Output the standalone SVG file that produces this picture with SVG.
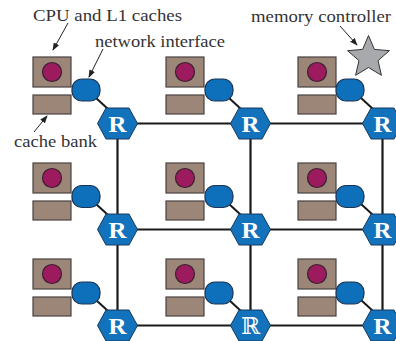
<svg xmlns="http://www.w3.org/2000/svg" width="396" height="341" viewBox="0 0 396 341">
<style>
.box{fill:#9c8677;stroke:#4a4242;stroke-width:1.2}
.cpu{fill:#9b1b5e;stroke:#3a2030;stroke-width:1.2}
.ni{fill:#0e6fbb;stroke:#1c3552;stroke-width:1.2}
.rt{fill:#1272bb;stroke:#173a5e;stroke-width:1}
.rl{font-family:"Liberation Serif",serif;font-weight:bold;font-size:23px;fill:#fff;text-anchor:middle}
.grid{stroke:#1a1a1a;stroke-width:2.2;fill:none}
.lbl{font-family:"Liberation Serif",serif;font-size:17.5px;fill:#333}
.ptr{stroke:#222;stroke-width:1;fill:none}
</style>
<defs>
<marker id="ah" markerWidth="8" markerHeight="6" refX="7" refY="3" orient="auto" markerUnits="userSpaceOnUse">
<path d="M0,0 L8,3 L0,6 Z" fill="#222"/>
</marker>
<polygon id="hex" points="-20,0 -11.5,-15.5 11.5,-15.5 20,0 11.5,15.5 -11.5,15.5"/>
</defs>
<rect width="396" height="341" fill="#fff"/>

<g id="connectors">
<g class="grid">
<line x1="117.5" y1="123.5" x2="382.5" y2="123.5"/>
<line x1="117.5" y1="229.5" x2="382.5" y2="229.5"/>
<line x1="117.5" y1="325.5" x2="382.5" y2="325.5"/>
<line x1="117.5" y1="123.5" x2="117.5" y2="325.5"/>
<line x1="250.5" y1="123.5" x2="250.5" y2="325.5"/>
<line x1="382.5" y1="123.5" x2="382.5" y2="325.5"/>
</g>
<g stroke="#1a1a1a" stroke-width="2">
<line x1="96" y1="98" x2="108" y2="109"/>
<line x1="229" y1="98" x2="241" y2="109"/>
<line x1="361" y1="98" x2="373" y2="109"/>
<line x1="96" y1="204" x2="108" y2="215"/>
<line x1="229" y1="204" x2="241" y2="215"/>
<line x1="361" y1="204" x2="373" y2="215"/>
<line x1="96" y1="300" x2="108" y2="311"/>
<line x1="229" y1="300" x2="241" y2="311"/>
<line x1="361" y1="300" x2="373" y2="311"/>
</g>
<g class="ptr">
<line x1="68" y1="23" x2="53" y2="50" marker-end="url(#ah)"/>
<line x1="103" y1="49" x2="89" y2="77" marker-end="url(#ah)"/>
<line x1="34" y1="132" x2="47" y2="116" marker-end="url(#ah)"/>
<line x1="340" y1="26" x2="357" y2="45" marker-end="url(#ah)"/>
</g>
</g>

<g id="tile-1-1"><rect class="box" x="33" y="57" width="38" height="30"/><circle class="cpu" cx="52" cy="72" r="9.5"/><rect class="box" x="33" y="95" width="38" height="19"/><rect class="ni" x="72" y="79" width="28" height="22" rx="10"/></g>
<g id="tile-1-2"><rect class="box" x="166" y="57" width="38" height="30"/><circle class="cpu" cx="185" cy="72" r="9.5"/><rect class="box" x="166" y="95" width="38" height="19"/><rect class="ni" x="205" y="79" width="28" height="22" rx="10"/></g>
<g id="tile-1-3"><rect class="box" x="298" y="57" width="38" height="30"/><circle class="cpu" cx="317" cy="72" r="9.5"/><rect class="box" x="298" y="95" width="38" height="19"/><rect class="ni" x="336" y="79" width="28" height="22" rx="10"/></g>
<g id="tile-2-1"><rect class="box" x="33" y="163" width="38" height="30"/><circle class="cpu" cx="52" cy="178" r="9.5"/><rect class="box" x="33" y="201" width="38" height="19"/><rect class="ni" x="72" y="185.5" width="28" height="22" rx="10"/></g>
<g id="tile-2-2"><rect class="box" x="166" y="163" width="38" height="30"/><circle class="cpu" cx="185" cy="178" r="9.5"/><rect class="box" x="166" y="201" width="38" height="19"/><rect class="ni" x="205" y="185.5" width="28" height="22" rx="10"/></g>
<g id="tile-2-3"><rect class="box" x="298" y="163" width="38" height="30"/><circle class="cpu" cx="317" cy="178" r="9.5"/><rect class="box" x="298" y="201" width="38" height="19"/><rect class="ni" x="336" y="185.5" width="28" height="22" rx="10"/></g>
<g id="tile-3-1"><rect class="box" x="33" y="259" width="38" height="30"/><circle class="cpu" cx="52" cy="274" r="9.5"/><rect class="box" x="33" y="297" width="38" height="19"/><rect class="ni" x="72" y="282" width="28" height="22" rx="10"/></g>
<g id="tile-3-2"><rect class="box" x="166" y="259" width="38" height="30"/><circle class="cpu" cx="185" cy="274" r="9.5"/><rect class="box" x="166" y="297" width="38" height="19"/><rect class="ni" x="205" y="282" width="28" height="22" rx="10"/></g>
<g id="tile-3-3"><rect class="box" x="298" y="259" width="38" height="30"/><circle class="cpu" cx="317" cy="274" r="9.5"/><rect class="box" x="298" y="297" width="38" height="19"/><rect class="ni" x="336" y="282" width="28" height="22" rx="10"/></g>

<g id="router-1-1"><use href="#hex" class="rt" x="117.5" y="123.5"/><text class="rl" x="117.5" y="131.5" textLength="18" lengthAdjust="spacingAndGlyphs">R</text></g>
<g id="router-1-2"><use href="#hex" class="rt" x="250.5" y="123.5"/><text class="rl" x="250.5" y="131.5" textLength="18" lengthAdjust="spacingAndGlyphs">R</text></g>
<g id="router-1-3"><use href="#hex" class="rt" x="382.5" y="123.5"/><text class="rl" x="382.5" y="131.5" textLength="18" lengthAdjust="spacingAndGlyphs">R</text></g>
<g id="router-2-1"><use href="#hex" class="rt" x="117.5" y="229.5"/><text class="rl" x="117.5" y="237.5" textLength="18" lengthAdjust="spacingAndGlyphs">R</text></g>
<g id="router-2-2"><use href="#hex" class="rt" x="250.5" y="229.5"/><text class="rl" x="250.5" y="237.5" textLength="18" lengthAdjust="spacingAndGlyphs">R</text></g>
<g id="router-2-3"><use href="#hex" class="rt" x="382.5" y="229.5"/><text class="rl" x="382.5" y="237.5" textLength="18" lengthAdjust="spacingAndGlyphs">R</text></g>
<g id="router-3-1"><use href="#hex" class="rt" x="117.5" y="325.5"/><text class="rl" x="117.5" y="333.5" textLength="18" lengthAdjust="spacingAndGlyphs">R</text></g>
<g id="router-3-2"><use href="#hex" class="rt" x="250.5" y="325.5"/><text x="250.5" y="333.5" font-family="'DejaVu Serif','DejaVu Sans',serif" font-size="23" fill="#fff" text-anchor="middle">ℝ</text></g>
<g id="router-3-3"><use href="#hex" class="rt" x="382.5" y="325.5"/><text class="rl" x="382.5" y="333.5" textLength="18" lengthAdjust="spacingAndGlyphs">R</text></g>

<g id="memory-controller"><polygon points="368.5,35.5 374.38,49.41 389.42,50.7 378.01,60.59 381.43,75.3 368.5,67.5 355.57,75.3 358.99,60.59 347.58,50.7 362.62,49.41" fill="#a7a9ac" stroke="#333" stroke-width="1"/></g>

<g id="labels">
<text class="lbl" x="33" y="20.5" textLength="149" lengthAdjust="spacingAndGlyphs">CPU and L1 caches</text>
<text class="lbl" x="95" y="47" textLength="130" lengthAdjust="spacingAndGlyphs">network interface</text>
<text class="lbl" x="251" y="21.5" textLength="140" lengthAdjust="spacingAndGlyphs">memory controller</text>
<text class="lbl" x="14" y="147" textLength="83" lengthAdjust="spacingAndGlyphs">cache bank</text>
</g>
</svg>
